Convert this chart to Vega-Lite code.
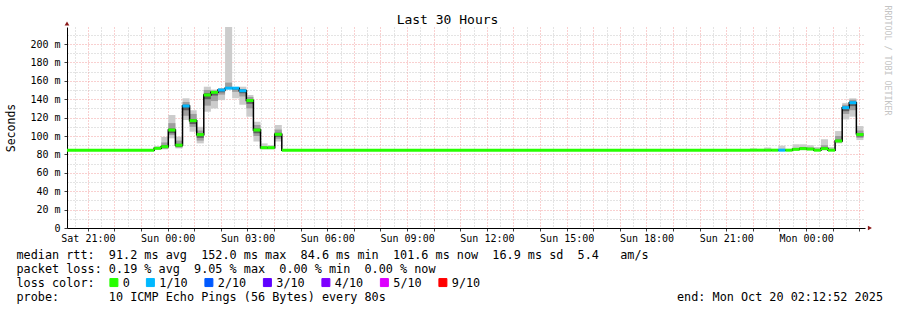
{
  "$schema": "https://vega.github.io/schema/vega-lite/v6.json",
  "width": 798,
  "height": 201,
  "autosize": {"type": "none"},
  "padding": {"left": 67, "top": 27, "right": 32, "bottom": 82},
  "background": "white",
  "title": {"text": "Last 30 Hours", "frame": "group", "anchor": "middle", "dx": -18.5, "dy": 35, "offset": 3, "baseline": "alphabetic", "font": "DejaVu Sans Mono", "fontSize": 13, "fontWeight": "normal", "color": "black"},
  "config": {"view": {"stroke": null}},
  "data": {"values": [
    {"t": 20.2144, "t2": 23.49, "med": 84.6, "loss": "0", "lo": 84.6, "hi": 84.6, "mlo": 84.6, "mhi": 84.6, "dlo": 84.6, "dhi": 84.6},
    {"t": 23.49, "t2": 23.757, "med": 86.6, "loss": "0", "lo": 85.5, "hi": 89, "mlo": 86, "mhi": 87.5, "dlo": 85.8, "dhi": 87.5},
    {"t": 23.757, "t2": 24.023, "med": 88.4, "loss": "0", "lo": 85.5, "hi": 99, "mlo": 86.5, "mhi": 93, "dlo": 86.8, "dhi": 90},
    {"t": 24.023, "t2": 24.29, "med": 106.5, "loss": "0", "lo": 97.5, "hi": 122.8, "mlo": 101, "mhi": 114, "dlo": 103, "dhi": 108},
    {"t": 24.29, "t2": 24.557, "med": 90, "loss": "0", "lo": 86.5, "hi": 99.3, "mlo": 87.5, "mhi": 95, "dlo": 88, "dhi": 91.5},
    {"t": 24.557, "t2": 24.823, "med": 132.6, "loss": "1/10", "lo": 117.4, "hi": 141, "mlo": 122, "mhi": 137, "dlo": 128, "dhi": 134},
    {"t": 24.823, "t2": 25.09, "med": 116.7, "loss": "0", "lo": 104.7, "hi": 128, "mlo": 110, "mhi": 124, "dlo": 113, "dhi": 118.5},
    {"t": 25.09, "t2": 25.357, "med": 101.5, "loss": "0", "lo": 92, "hi": 110, "mlo": 95, "mhi": 106, "dlo": 98, "dhi": 103},
    {"t": 25.357, "t2": 25.623, "med": 144.6, "loss": "0", "lo": 126.4, "hi": 153.6, "mlo": 133, "mhi": 150, "dlo": 140, "dhi": 146.5},
    {"t": 25.623, "t2": 25.89, "med": 147.5, "loss": "0", "lo": 130, "hi": 150.5, "mlo": 138, "mhi": 149, "dlo": 144, "dhi": 149},
    {"t": 25.89, "t2": 26.157, "med": 150, "loss": "1/10", "lo": 139, "hi": 152, "mlo": 145, "mhi": 151.5, "dlo": 147.5, "dhi": 151},
    {"t": 26.157, "t2": 26.423, "med": 152, "loss": "1/10", "lo": 152, "hi": 218.5, "mlo": 152, "mhi": 158, "dlo": 152, "dhi": 153},
    {"t": 26.423, "t2": 26.69, "med": 152, "loss": "1/10", "lo": 141, "hi": 152.5, "mlo": 148, "mhi": 152, "dlo": 150.5, "dhi": 152},
    {"t": 26.69, "t2": 26.957, "med": 149.2, "loss": "1/10", "lo": 134, "hi": 153.6, "mlo": 143, "mhi": 151, "dlo": 146.5, "dhi": 150.5},
    {"t": 26.957, "t2": 27.223, "med": 138.6, "loss": "0", "lo": 121, "hi": 144.6, "mlo": 130, "mhi": 142.5, "dlo": 135, "dhi": 140},
    {"t": 27.223, "t2": 27.49, "med": 106.5, "loss": "0", "lo": 94, "hi": 115.5, "mlo": 100, "mhi": 112, "dlo": 103, "dhi": 108},
    {"t": 27.49, "t2": 27.757, "med": 87.3, "loss": "0", "lo": 85.5, "hi": 92, "mlo": 86, "mhi": 89, "dlo": 86.3, "dhi": 88},
    {"t": 27.757, "t2": 28.023, "med": 87.3, "loss": "0", "lo": 85.5, "hi": 90, "mlo": 86, "mhi": 88, "dlo": 86.5, "dhi": 87.8},
    {"t": 28.023, "t2": 28.29, "med": 101.8, "loss": "0", "lo": 94, "hi": 112, "mlo": 97, "mhi": 107, "dlo": 99, "dhi": 103.5},
    {"t": 28.29, "t2": 45.89, "med": 84.6, "loss": "0", "lo": 84.6, "hi": 84.6, "mlo": 84.6, "mhi": 84.6, "dlo": 84.6, "dhi": 84.6},
    {"t": 45.89, "t2": 46.157, "med": 84.6, "loss": "0", "lo": 84.6, "hi": 86.5, "mlo": 84.6, "mhi": 85.5, "dlo": 84.6, "dhi": 84.6},
    {"t": 46.157, "t2": 46.423, "med": 84.6, "loss": "0", "lo": 84.6, "hi": 84.6, "mlo": 84.6, "mhi": 84.6, "dlo": 84.6, "dhi": 84.6},
    {"t": 46.423, "t2": 46.69, "med": 84.6, "loss": "0", "lo": 84.6, "hi": 87.5, "mlo": 84.6, "mhi": 85.5, "dlo": 84.6, "dhi": 84.6},
    {"t": 46.69, "t2": 46.957, "med": 84.6, "loss": "0", "lo": 84.6, "hi": 84.6, "mlo": 84.6, "mhi": 84.6, "dlo": 84.6, "dhi": 84.6},
    {"t": 46.957, "t2": 47.223, "med": 84.6, "loss": "1/10", "lo": 84.6, "hi": 89.5, "mlo": 84.6, "mhi": 86, "dlo": 84.6, "dhi": 84.6},
    {"t": 47.223, "t2": 47.49, "med": 84.6, "loss": "0", "lo": 84.6, "hi": 84.6, "mlo": 84.6, "mhi": 84.6, "dlo": 84.6, "dhi": 84.6},
    {"t": 47.49, "t2": 47.757, "med": 85.5, "loss": "0", "lo": 84.6, "hi": 91, "mlo": 84.6, "mhi": 87, "dlo": 84.8, "dhi": 86.2},
    {"t": 47.757, "t2": 48.023, "med": 86.3, "loss": "0", "lo": 84.6, "hi": 91, "mlo": 85, "mhi": 88, "dlo": 85.5, "dhi": 87},
    {"t": 48.023, "t2": 48.29, "med": 85.8, "loss": "0", "lo": 84.6, "hi": 90, "mlo": 85, "mhi": 87.5, "dlo": 85.2, "dhi": 86.5},
    {"t": 48.29, "t2": 48.557, "med": 84.6, "loss": "0", "lo": 84.6, "hi": 88, "mlo": 84.6, "mhi": 86, "dlo": 84.6, "dhi": 84.6},
    {"t": 48.557, "t2": 48.823, "med": 86.3, "loss": "0", "lo": 84.6, "hi": 96.5, "mlo": 85, "mhi": 90, "dlo": 85.5, "dhi": 87.5},
    {"t": 48.823, "t2": 49.09, "med": 84.6, "loss": "0", "lo": 84.6, "hi": 88, "mlo": 84.6, "mhi": 86, "dlo": 84.6, "dhi": 84.6},
    {"t": 49.09, "t2": 49.357, "med": 94.6, "loss": "0", "lo": 92, "hi": 105.4, "mlo": 93, "mhi": 100, "dlo": 93.5, "dhi": 96},
    {"t": 49.357, "t2": 49.623, "med": 130.8, "loss": "1/10", "lo": 118, "hi": 136, "mlo": 124, "mhi": 134, "dlo": 127, "dhi": 132},
    {"t": 49.623, "t2": 49.89, "med": 136.2, "loss": "1/10", "lo": 121, "hi": 141, "mlo": 128, "mhi": 139.5, "dlo": 132.5, "dhi": 137.5},
    {"t": 49.89, "t2": 50.157, "med": 101.6, "loss": "0", "lo": 95.6, "hi": 110.8, "mlo": 98, "mhi": 106, "dlo": 99.5, "dhi": 103}
  ]},
  "layer": [
    {
      "mark": {"type": "rect", "fill": "#cccccc"},
      "encoding": {
        "x": {"field": "t", "type": "quantitative",
          "scale": {"domain": [20.2144, 50.2144], "nice": false, "zero": false},
          "axis": {
            "values": [20.5,21,21.5,22,22.5,23,23.5,24,24.5,25,25.5,26,26.5,27,27.5,28,28.5,29,29.5,30,30.5,31,31.5,32,32.5,33,33.5,34,34.5,35,35.5,36,36.5,37,37.5,38,38.5,39,39.5,40,40.5,41,41.5,42,42.5,43,43.5,44,44.5,45,45.5,46,46.5,47,47.5,48,48.5,49,49.5,50],
            "labelExpr": "datum.value % 3 == 0 ? (datum.value < 24 ? 'Sat ' : datum.value < 48 ? 'Sun ' : 'Mon ') + (datum.value % 24 < 10 ? '0' : '') + (datum.value % 24) + ':00' : ''",
            "labelFont": "DejaVu Sans Mono", "labelFontSize": 10, "labelColor": "black", "labelPadding": 2, "labelAngle": 0,
            "labelOverlap": false, "labelFlush": false, "labelBound": false,
            "tickSize": 3, "tickColor": "#404040",
            "tickOpacity": {"condition": {"test": "datum.value % 1 == 0", "value": 1}, "value": 0},
            "grid": true,
            "gridColor": {"condition": {"test": "datum.value % 1 == 0", "value": "#f2a0a0"}, "value": "#c8c8c8"},
            "gridDash": [1, 2], "gridWidth": 1,
            "domainColor": "black", "domainWidth": 1,
            "title": [
              "median\u00a0rtt:\u00a0\u00a091.2\u00a0ms\u00a0avg\u00a0\u00a0152.0\u00a0ms\u00a0max\u00a0\u00a084.6\u00a0ms\u00a0min\u00a0\u00a0101.6\u00a0ms\u00a0now\u00a0\u00a016.9\u00a0ms\u00a0sd\u00a0\u00a05.4\u00a0\u00a0\u00a0am/s",
              "packet\u00a0loss:\u00a00.19\u00a0%\u00a0avg\u00a0\u00a09.05\u00a0%\u00a0max\u00a0\u00a00.00\u00a0%\u00a0min\u00a0\u00a00.00\u00a0%\u00a0now",
              "loss\u00a0color:",
              "probe:\u00a0\u00a0\u00a0\u00a0\u00a0\u00a0\u00a010\u00a0ICMP\u00a0Echo\u00a0Pings\u00a0(56\u00a0Bytes)\u00a0every\u00a080s\u00a0\u00a0\u00a0\u00a0\u00a0\u00a0\u00a0\u00a0\u00a0\u00a0\u00a0\u00a0\u00a0\u00a0\u00a0\u00a0\u00a0\u00a0\u00a0\u00a0\u00a0\u00a0\u00a0\u00a0\u00a0\u00a0\u00a0\u00a0\u00a0\u00a0\u00a0\u00a0\u00a0\u00a0\u00a0\u00a0\u00a0\u00a0\u00a0\u00a0\u00a0end:\u00a0Mon\u00a0Oct\u00a020\u00a002:12:52\u00a02025"
            ],
            "titleFont": "DejaVu Sans Mono", "titleFontSize": 11.8, "titleFontWeight": "normal", "titleColor": "black",
            "titleAlign": "left", "titleAnchor": "start", "titleBaseline": "alphabetic",
            "titleX": -51, "titleY": 30, "titleLineHeight": 14
          }
        },
        "x2": {"field": "t2"},
        "y": {"field": "lo", "type": "quantitative",
          "scale": {"domain": [0, 218.5], "nice": false, "zero": true},
          "axis": {
            "values": [0,10,20,30,40,50,60,70,80,90,100,110,120,130,140,150,160,170,180,190,200,210],
            "labelExpr": "datum.value % 20 == 0 ? (datum.value == 0 ? '0' : datum.value + ' m') : ''",
            "labelFont": "DejaVu Sans Mono", "labelFontSize": 10, "labelColor": "black", "labelPadding": 4,
            "labelOverlap": false, "labelFlush": false, "labelBound": false,
            "tickSize": 3, "tickColor": "#404040",
            "tickOpacity": {"condition": {"test": "datum.value % 20 == 0", "value": 1}, "value": 0},
            "grid": true,
            "gridColor": {"condition": {"test": "datum.value % 20 == 0", "value": "#f2a0a0"}, "value": "#c8c8c8"},
            "gridDash": [1, 2], "gridWidth": 1,
            "domainColor": "black", "domainWidth": 1,
            "title": "Seconds",
            "titleFont": "DejaVu Sans Mono", "titleFontSize": 11.5, "titleFontWeight": "normal", "titleColor": "black",
            "titleAngle": 270, "titleX": -56, "titleY": 100.5, "titleAlign": "center", "titleBaseline": "middle"
          }
        },
        "y2": {"field": "hi"}
      }
    },
    {
      "mark": {"type": "rect", "fill": "#9e9e9e"},
      "encoding": {
        "x": {"field": "t", "type": "quantitative", "axis": null},
        "x2": {"field": "t2"},
        "y": {"field": "mlo", "type": "quantitative", "axis": null},
        "y2": {"field": "mhi"}
      }
    },
    {
      "mark": {"type": "rect", "fill": "#5e5e5e"},
      "encoding": {
        "x": {"field": "t", "type": "quantitative", "axis": null},
        "x2": {"field": "t2"},
        "y": {"field": "dlo", "type": "quantitative", "axis": null},
        "y2": {"field": "dhi"}
      }
    },
    {
      "mark": {"type": "line", "interpolate": "step-after", "color": "black", "strokeWidth": 1.5},
      "encoding": {
        "x": {"field": "t", "type": "quantitative", "axis": null},
        "y": {"field": "med", "type": "quantitative", "axis": null}
      }
    },
    {
      "mark": {"type": "rule", "strokeWidth": 3},
      "encoding": {
        "x": {"field": "t", "type": "quantitative", "axis": null},
        "x2": {"field": "t2"},
        "y": {"field": "med", "type": "quantitative", "axis": null},
        "color": {"field": "loss", "type": "nominal",
          "scale": {"domain": ["0", "1/10", "2/10", "3/10", "4/10", "5/10", "9/10"],
                    "range": ["#26ff00", "#00b8ff", "#0059ff", "#5e00ff", "#7e00ff", "#dd00ff", "#ff0000"]},
          "legend": {
            "orient": "none", "legendX": 41, "legendY": 249.5, "direction": "horizontal", "title": null,
            "padding": 0, "symbolType": "square", "symbolSize": 64,
            "labelFont": "DejaVu Sans Mono", "labelFontSize": 11.8, "labelColor": "black", "labelOffset": 3,
            "columnPadding": 13.5,
            "encode": {"symbols": {"update": {"fill": {"scale": "color", "field": "value"}, "stroke": {"value": "black"}, "strokeWidth": {"value": 1}, "opacity": {"value": 1}}}}
          }
        }
      }
    },
    {
      "data": {"values": [{"k": 1}]},
      "mark": {"type": "point", "shape": "triangle-up", "filled": true, "color": "#8b1a1a", "size": 22, "opacity": 1},
      "encoding": {
        "x": {"datum": 20.2144, "type": "quantitative", "axis": null},
        "y": {"datum": 222.3, "type": "quantitative",
          "axis": {"orient": "right", "labels": false, "ticks": false, "domain": false, "grid": false,
            "title": "RRDTOOL / TOBI OETIKER", "titleAngle": 90, "titleX": 21, "titleY": -22,
            "titleAlign": "left", "titleBaseline": "middle", "titleFont": "DejaVu Sans Mono", "titleFontSize": 8.3,
            "titleFontWeight": "normal", "titleColor": "#c4c4c4"}}
      }
    },
    {
      "data": {"values": [{"k": 1}]},
      "mark": {"type": "point", "shape": "triangle-right", "filled": true, "color": "#8b1a1a", "size": 22, "opacity": 1},
      "encoding": {
        "x": {"datum": 50.4, "type": "quantitative", "axis": null},
        "y": {"datum": 0, "type": "quantitative", "axis": null}
      }
    }
  ],
  "resolve": {"axis": {"x": "independent", "y": "independent"}}
}
